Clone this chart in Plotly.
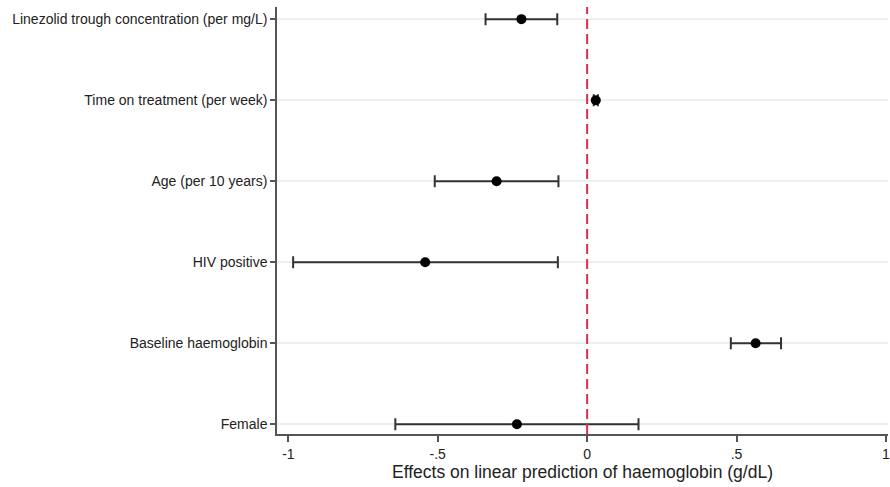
import plotly.graph_objects as go

labels = ["Linezolid trough concentration (per mg/L)", "Time on treatment (per week)",
          "Age (per 10 years)", "HIV positive", "Baseline haemoglobin", "Female"]
estimates = [-0.22, 0.029, -0.303, -0.542, 0.564, -0.235]
ci_low = [-0.34, 0.022, -0.51, -0.984, 0.481, -0.642]
ci_high = [-0.10, 0.036, -0.096, -0.098, 0.649, 0.172]
xtick_vals = [-1, -0.5, 0, 0.5, 1]
xtick_text = ["-1", "-.5", "0", ".5", "1"]

ypos = list(range(1, len(labels) + 1))
err_plus = [h - e for h, e in zip(ci_high, estimates)]
err_minus = [e - l for e, l in zip(estimates, ci_low)]

fig = go.Figure()
fig.add_trace(go.Scatter(
    x=estimates, y=ypos, mode="markers",
    marker=dict(color="black", size=10),
    error_x=dict(type="data", array=err_plus, arrayminus=err_minus,
                 color="#333333", thickness=2, width=6),
    showlegend=False,
))

fig.add_shape(type="line", xref="x", yref="paper", x0=0, x1=0, y0=0, y1=1,
              line=dict(color="#d9304f", width=2, dash="10px,5px"), layer="above")

fig.update_layout(
    width=890, height=487,
    margin=dict(l=277, r=0, t=7, b=53),
    plot_bgcolor="white", paper_bgcolor="white",
    font=dict(family="Liberation Sans, Arial, sans-serif", color="#222222"),
    xaxis=dict(
        range=[-1.038, 1.007], tickvals=xtick_vals, ticktext=xtick_text,
        showgrid=False, zeroline=False, showline=True, linecolor="#555555", linewidth=1.5,
        ticks="outside", ticklen=6, tickcolor="#555555", tickwidth=1.5,
        tickfont=dict(size=14, color="#222222"), ticklabeloverflow="allow",
        title=dict(text="Effects on linear prediction of haemoglobin (g/dL)",
                   font=dict(size=17.5, color="#222222"), standoff=2),
    ),
    yaxis=dict(
        range=[6.12, 0.85], tickvals=ypos, ticktext=labels,
        showgrid=True, gridcolor="#eaf1f4", gridwidth=1.5, zeroline=False,
        showline=True, linecolor="#555555", linewidth=1.5,
        ticks="outside", ticklen=5, tickcolor="#555555", tickwidth=1.5,
        tickfont=dict(size=14, color="#222222"),
    ),
)

fig.write_html("out.html", config={"displayModeBar": False})
with open("out.html", encoding="utf-8") as f:
    html = f.read()
html = html.replace("<body>", '<body style="margin:0;padding:0;overflow:hidden">', 1)
with open("out.html", "w", encoding="utf-8") as f:
    f.write(html)
